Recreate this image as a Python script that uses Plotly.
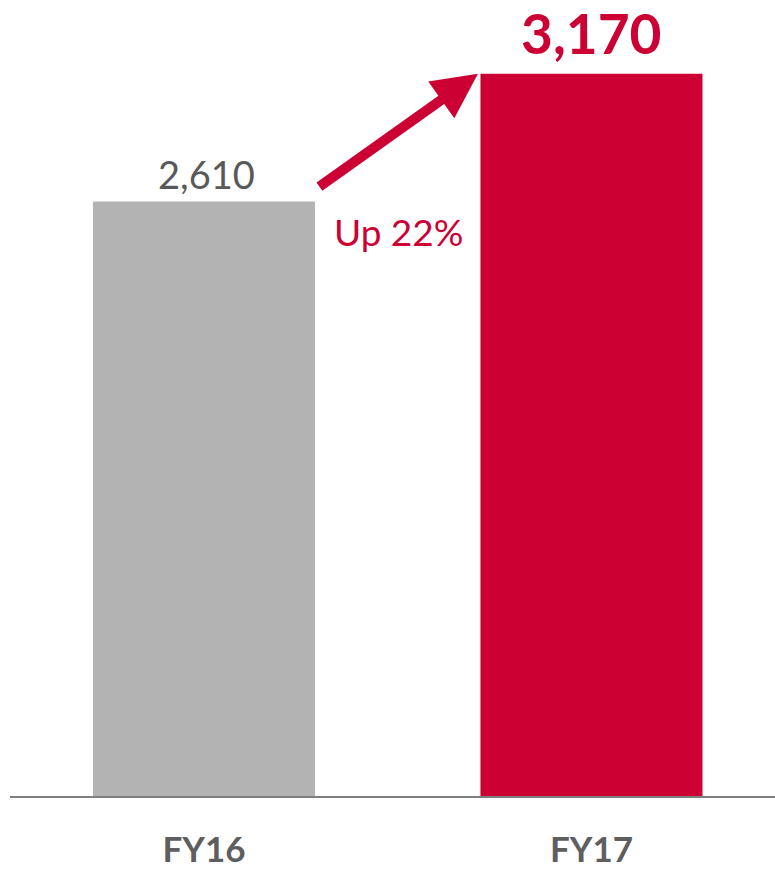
import plotly.graph_objects as go

# Fiscal-year totals
years = ["FY16", "FY17"]
values = [2610, 3170]
bar_colors = ["#B3B3B3", "#CC0033"]
growth_label = "Up 22%"

RED = "#CC0033"
GRAY_TEXT = "#595959"
FONT = "Lato"

fig = go.Figure()
fig.add_trace(go.Bar(
    x=[0, 1],
    y=values,
    width=0.573,
    marker=dict(color=bar_colors, line=dict(width=0)),
    hoverinfo="skip",
))

# value labels above bars
fig.add_annotation(x=0, y=values[0], text=f"{values[0]:,}", showarrow=False,
                   yanchor="bottom", yshift=2, xshift=3,
                   font=dict(family=FONT, size=38, color=GRAY_TEXT))
fig.add_annotation(x=1, y=values[1], text=f"<b>{values[1]:,}</b>", showarrow=False,
                   yanchor="bottom", yshift=7, borderpad=0,
                   font=dict(family=FONT, size=55, color=RED))

# growth arrow from the FY16 bar toward the FY17 bar top
fig.add_annotation(
    x=0.707, y=values[1], xref="x", yref="y",
    ax=0.294, ay=values[0] + 60, axref="x", ayref="y",
    text="", showarrow=True,
    arrowhead=2, arrowsize=0.9, arrowwidth=10, arrowcolor=RED,
)
fig.add_annotation(x=0.502, y=values[0] - 130, text=growth_label, showarrow=False,
                   yanchor="middle",
                   font=dict(family=FONT, size=37, color=RED))

fig.update_layout(
    width=775, height=869,
    margin=dict(l=10, r=0, t=0, b=71),
    paper_bgcolor="white", plot_bgcolor="white",
    showlegend=False,
    xaxis=dict(
        range=[-0.5006, 1.4736],
        tickmode="array", tickvals=[0, 1], ticktext=[f"<b>{y}</b>" for y in years],
        tickfont=dict(family=FONT, size=35, color="#5E5E5E"),
        showline=True, linecolor="#7F7F7F", linewidth=2,
        showgrid=False, zeroline=False, ticks="",
        ticklabelstandoff=22,
    ),
    yaxis=dict(range=[0, 3494], visible=False, showgrid=False, zeroline=False),
)

fig.write_html("out.html")
